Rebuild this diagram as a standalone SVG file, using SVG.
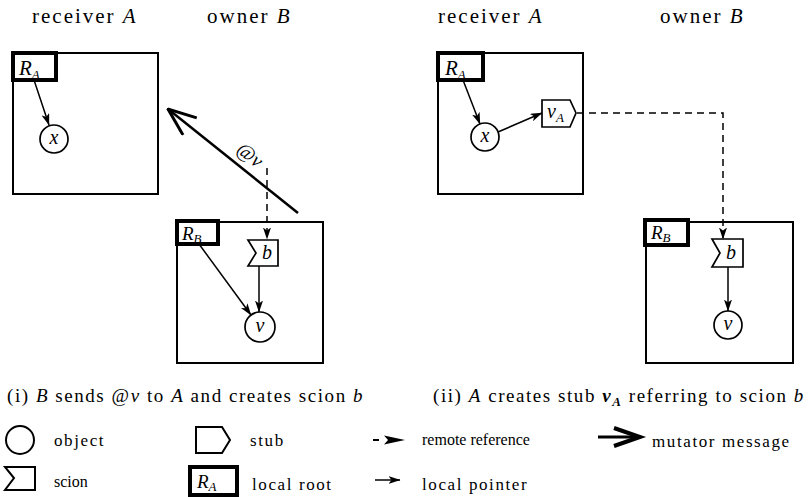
<svg xmlns="http://www.w3.org/2000/svg" width="808" height="497" viewBox="0 0 808 497">
<defs>
<style>
text{font-family:"Liberation Serif","Times New Roman",serif;fill:#000}
.hd{font-size:21px;letter-spacing:2px}
.cap{font-size:19px;letter-spacing:1.55px}
.lg{font-size:17px;letter-spacing:1.6px}
.lgs{font-size:16px}
.it{font-style:italic}
.box{fill:none;stroke:#000;stroke-width:2}
.root{fill:#fff;stroke:#000;stroke-width:4}
.obj{fill:#fff;stroke:#000;stroke-width:1.7}
.ptr{fill:none;stroke:#000;stroke-width:1.5;marker-end:url(#ah)}
.rem{fill:none;stroke:#000;stroke-width:1.5;stroke-dasharray:7 5;marker-end:url(#ah)}
.mut{fill:none;stroke:#000;stroke-width:2.5;marker-end:url(#mh)}
.lbl{font-size:20px;font-style:italic}
.rl{font-size:21px;font-style:italic}
.sub{font-size:13px;font-style:italic}
</style>
<marker id="ah" viewBox="0 0 12 8" refX="11.5" refY="4" markerWidth="12" markerHeight="8" markerUnits="userSpaceOnUse" orient="auto">
<path d="M0,0 L12,4 L0,8 L3,4 z" fill="#000"/>
</marker>
<marker id="mh" viewBox="0 0 30 24" refX="29" refY="12" markerWidth="30" markerHeight="24" markerUnits="userSpaceOnUse" orient="auto">
<path d="M1,1 L29,12 L1,23" fill="none" stroke="#000" stroke-width="3"/>
</marker>
</defs>
<rect x="0" y="0" width="808" height="497" fill="#fff"/>

<g id="titles">
<text class="hd" x="32" y="23">receiver <tspan class="it">A</tspan></text>
<text class="hd" x="207" y="23">owner <tspan class="it">B</tspan></text>
<text class="hd" x="438" y="23">receiver <tspan class="it">A</tspan></text>
<text class="hd" x="660" y="23">owner <tspan class="it">B</tspan></text>
</g>

<!-- panel (i) -->
<g id="procA-i"><rect class="box" x="13" y="53" width="145" height="141"/></g>
<g id="rootA-i"><rect class="root" x="13" y="53" width="43" height="27"/><text x="19" y="75"><tspan class="rl">R</tspan><tspan class="sub" dy="4">A</tspan></text></g>
<g id="objx-i"><circle class="obj" cx="54" cy="139" r="14"/><text class="lbl" x="54" y="144" text-anchor="middle">x</text></g>
<g id="procB-i"><rect class="box" x="177" y="222" width="146" height="141"/></g>
<g id="rootB-i"><rect class="root" x="177" y="221" width="41" height="23"/><text x="182" y="240"><tspan class="rl" style="font-size:19px">R</tspan><tspan class="sub" dy="3">B</tspan></text></g>
<g id="scionb-i"><polygon class="obj" points="248,240 278,240 278,266 248,266 256,253"/><text class="lbl" x="267" y="259" text-anchor="middle">b</text></g>
<g id="objv-i"><circle class="obj" cx="260" cy="327" r="15"/><text class="lbl" x="260" y="332" text-anchor="middle">v</text></g>

<!-- panel (ii) -->
<g id="procA-ii"><rect class="box" x="438" y="53" width="145" height="141"/></g>
<g id="rootA-ii"><rect class="root" x="438" y="53" width="45" height="27"/><text x="445" y="75"><tspan class="rl">R</tspan><tspan class="sub" dy="4">A</tspan></text></g>
<g id="objx-ii"><circle class="obj" cx="485" cy="137" r="14"/><text class="lbl" x="485" y="142" text-anchor="middle">x</text></g>
<g id="stubvA-ii"><polygon class="obj" points="542,100 570,100 576,113 570,127 542,127"/><text x="547" y="118"><tspan class="lbl">v</tspan><tspan class="sub" dy="4">A</tspan></text></g>
<g id="procB-ii"><rect class="box" x="646" y="222" width="147" height="141"/></g>
<g id="rootB-ii"><rect class="root" x="645" y="220" width="43" height="25"/><text x="651" y="239"><tspan class="rl" style="font-size:19px">R</tspan><tspan class="sub" dy="3">B</tspan></text></g>
<g id="scionb-ii"><polygon class="obj" points="712,239 743,239 743,267 712,267 720,253"/><text class="lbl" x="731" y="259" text-anchor="middle">b</text></g>
<g id="objv-ii"><circle class="obj" cx="728" cy="325" r="14"/><text class="lbl" x="728" y="330" text-anchor="middle">v</text></g>

<g id="connectors">
<line class="ptr" x1="34" y1="80" x2="49" y2="125"/>
<line class="mut" x1="298" y1="213" x2="168" y2="109"/>
<text transform="translate(246,160) rotate(38.7)" text-anchor="middle" style="font-size:20px">@<tspan class="it">v</tspan></text>
<line class="rem" x1="267" y1="168" x2="267" y2="239"/>
<line class="ptr" x1="199" y1="244" x2="251" y2="315"/>
<line class="ptr" x1="259" y1="266" x2="259" y2="312"/>
<line class="ptr" x1="463" y1="80" x2="480" y2="124"/>
<line class="ptr" x1="498" y1="132" x2="542" y2="113"/>
<polyline class="rem" points="577,113 723,113 723,239"/>
<line class="ptr" x1="728" y1="267" x2="728" y2="311"/>
</g>

<g id="captions">
<text class="cap" x="7" y="402">(i) <tspan class="it">B</tspan> sends @<tspan class="it">v</tspan> to <tspan class="it">A</tspan> and creates scion <tspan class="it">b</tspan></text>
<text class="cap" x="433" y="402">(ii) <tspan class="it">A</tspan> creates stub <tspan class="it" font-weight="bold">v</tspan><tspan class="it" font-weight="bold" font-size="13px" dy="4">A</tspan><tspan dy="-4"> referring to scion </tspan><tspan class="it">b</tspan></text>
</g>

<g id="legend">
<circle class="obj" cx="20" cy="440" r="14" style="stroke-width:2"/>
<text class="lg" x="54" y="446">object</text>
<polygon class="obj" points="196,427 222,427 230,440 222,453 196,453" style="stroke-width:2"/>
<text class="lg" x="250" y="446">stub</text>
<line x1="373" y1="440" x2="379" y2="440" stroke="#000" stroke-width="2"/>
<polygon points="384,435.5 405,440 384,444.5 388,440" fill="#000"/>
<text class="lgs" x="422" y="445">remote reference</text>
<line x1="598" y1="437" x2="636" y2="437" stroke="#000" stroke-width="3"/>
<polyline points="614,428 640,437 614,446" fill="none" stroke="#000" stroke-width="4"/>
<text class="lg" x="652" y="447">mutator message</text>
<polygon class="obj" points="5,467 35,467 35,490 5,490 14,478" style="stroke-width:2"/>
<text class="lgs" x="54" y="487">scion</text>
<rect class="root" x="190" y="467" width="47" height="28"/>
<text x="197" y="488"><tspan class="rl" style="font-size:19px">R</tspan><tspan class="sub" dy="3">A</tspan></text>
<text class="lg" x="252" y="490">local root</text>
<line class="ptr" x1="375" y1="480" x2="400" y2="480"/>
<text class="lg" x="422" y="490">local pointer</text>
</g>
</svg>
